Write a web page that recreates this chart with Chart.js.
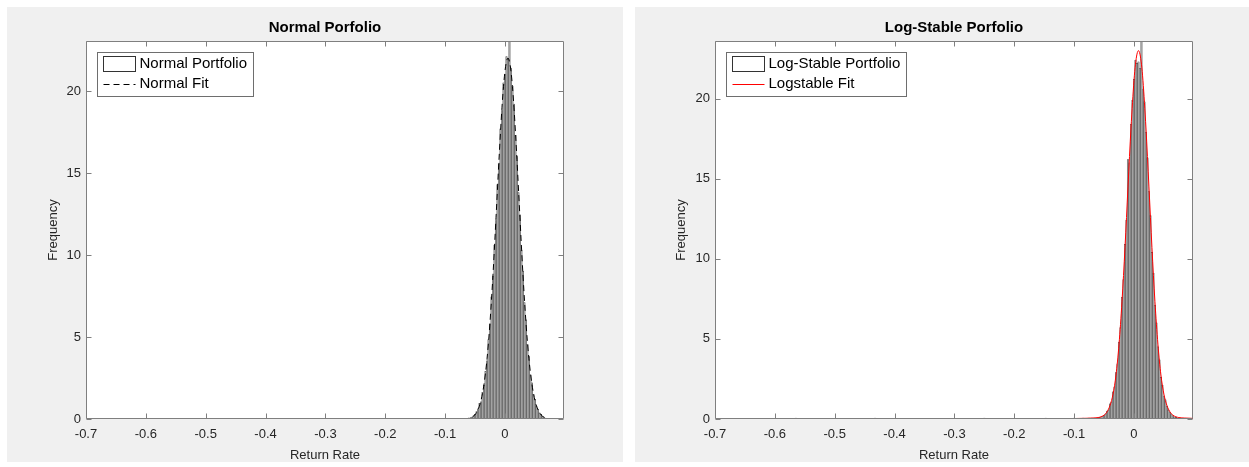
<!DOCTYPE html>
<html>
<head>
<meta charset="utf-8">
<title>Portfolio return histograms</title>
<script src="https://cdn.jsdelivr.net/npm/chart.js@4.4.1/dist/chart.umd.min.js"></script>
<style>
  html, body { margin: 0; padding: 0; background: #fff; }
  body { width: 1249px; height: 467px; position: relative; overflow: hidden; }
  .panel { position: absolute; top: 7px; height: 455px; background: #f0f0f0; }
  #leftPanel { left: 7px; width: 616px; }
  #rightPanel { left: 635px; width: 614px; }
  canvas { display: block; }
</style>
</head>
<body>
<div class="panel" id="leftPanel"><canvas id="normalChart" width="616" height="455"></canvas></div>
<div class="panel" id="rightPanel"><canvas id="stableChart" width="614" height="455"></canvas></div>
<script>
// axis ticks shared by both panels
const xTickValues = [-0.7, -0.6, -0.5, -0.4, -0.3, -0.2, -0.1, 0];
const yTickValues = [0, 5, 10, 15, 20];

// normal portfolio: histogram bin centres and densities
const normalBins = [
  -0.06, -0.0575, -0.055, -0.0525, -0.05, -0.0475, -0.045, -0.0425, -0.04, -0.0375,
  -0.035, -0.0325, -0.03, -0.0275, -0.025, -0.0225, -0.02, -0.0175, -0.015, -0.0125,
  -0.01, -0.0075, -0.005, -0.0025, 0, 0.0025, 0.005, 0.0075, 0.01, 0.0125,
  0.015, 0.0175, 0.02, 0.0225, 0.025, 0.0275, 0.03, 0.0325, 0.035, 0.0375,
  0.04, 0.0425, 0.045, 0.0475, 0.05, 0.0525, 0.055, 0.0575, 0.06, 0.0625,
  0.065, 0.0675, 0.07
];
const normalFreq = [
  0.03, 0.08, 0.12, 0.20, 0.28, 0.45, 0.62, 0.95, 1.05, 1.62,
  2.05, 2.90, 3.55, 4.85, 5.80, 7.45, 8.70, 10.60, 12.10, 14.30,
  15.60, 17.70, 18.80, 20.50, 21.00, 22.10, 22.00, 23.80, 21.40, 20.30,
  19.20, 17.30, 16.00, 13.80, 12.45, 10.30, 9.00, 7.10, 6.05, 4.55,
  3.80, 2.70, 2.20, 1.50, 1.20, 0.75, 0.60, 0.38, 0.28, 0.15,
  0.12, 0.06, 0.04
];
// normal fit curve
const normalFitX = [
  -0.07, -0.065, -0.06, -0.055, -0.05, -0.045, -0.04, -0.035, -0.03, -0.025,
  -0.02, -0.015, -0.01, -0.005, -0.0025, 0, 0.0025, 0.005, 0.0075, 0.01,
  0.0125, 0.015, 0.02, 0.025, 0.03, 0.035, 0.04, 0.045, 0.05, 0.055,
  0.06, 0.065, 0.07, 0.075, 0.08
];
const normalFitY = [
  0.006, 0.017, 0.046, 0.114, 0.265, 0.57, 1.14, 2.13, 3.67, 5.91,
  8.83, 12.27, 15.83, 19.01, 20.26, 21.21, 21.80, 22.0, 21.80, 21.21,
  20.26, 19.01, 15.83, 12.27, 8.83, 5.91, 3.67, 2.13, 1.14, 0.57,
  0.265, 0.114, 0.046, 0.017, 0.006
];

// log-stable portfolio: histogram bin centres and densities
const stableBins = [
  -0.565, -0.4325, -0.25, -0.1475, -0.1, -0.085, -0.075, -0.07,
  -0.065, -0.0625, -0.06, -0.0575, -0.055, -0.0525, -0.05, -0.0475, -0.045, -0.0425,
  -0.04, -0.0375, -0.035, -0.0325, -0.03, -0.0275, -0.025, -0.0225, -0.02, -0.0175,
  -0.015, -0.0125, -0.01, -0.0075, -0.005, -0.0025, 0, 0.0025, 0.005, 0.0075,
  0.01, 0.0125, 0.015, 0.0175, 0.02, 0.0225, 0.025, 0.0275, 0.03, 0.0325,
  0.035, 0.0375, 0.04, 0.0425, 0.045, 0.0475, 0.05, 0.0525, 0.055, 0.0575,
  0.06, 0.0625, 0.065, 0.0675, 0.07, 0.0725, 0.075, 0.0775
];
const stableFreq = [
  0.06, 0.06, 0.06, 0.06, 0.06, 0.06, 0.06, 0.06,
  0.06, 0.04, 0.05, 0.10, 0.08, 0.18, 0.22, 0.30, 0.50, 0.55,
  0.95, 1.05, 1.70, 2.00, 2.90, 3.45, 4.80, 5.70, 7.60, 8.70,
  10.90, 12.40, 16.20, 16.00, 18.40, 19.90, 21.20, 22.40, 22.20, 22.30,
  21.90, 24.50, 20.60, 19.80, 17.90, 16.30, 14.20, 12.70, 10.40, 9.10,
  7.10, 6.00, 4.50, 3.70, 2.60, 2.10, 1.40, 1.20, 0.80, 0.55,
  0.40, 0.28, 0.20, 0.12, 0.10, 0.05, 0.06, 0.03
];
// log-stable fit curve
const stableFitX = [
  -0.565, -0.45, -0.35, -0.25, -0.15, -0.1, -0.08, -0.07,
  -0.06, -0.055, -0.05, -0.045, -0.04, -0.035, -0.03, -0.025, -0.02, -0.015, -0.01, -0.005,
  0, 0.0025, 0.005, 0.0075, 0.01, 0.0125, 0.015,
  0.02, 0.025, 0.03, 0.035, 0.04, 0.045, 0.05, 0.055, 0.06, 0.065, 0.07, 0.075,
  0.085, 0.0986
];
const stableFitY = [
  0.002, 0.003, 0.004, 0.006, 0.015, 0.03, 0.045, 0.06,
  0.09, 0.14, 0.24, 0.45, 0.85, 1.55, 2.75, 4.67, 7.34, 10.71, 14.49, 18.17,
  21.13, 22.15, 22.78, 23.0, 22.78, 22.15, 21.13,
  18.17, 14.49, 10.71, 7.34, 4.67, 2.75, 1.55, 0.85, 0.45, 0.24, 0.14, 0.09,
  0.06, 0.04
];

const FONT = '"Liberation Sans", Arial, Helvetica, sans-serif';
const AXIS_COLOR = '#7f7f7f';
const TEXT_COLOR = '#262626';
Chart.defaults.font.family = FONT;

// white plot box, inward ticks on all four sides, bold title and boxed legend
const matlabAxes = {
  id: 'matlabAxes',
  beforeDraw(chart) {
    const { ctx, chartArea: a } = chart;
    ctx.save();
    ctx.fillStyle = '#ffffff';
    ctx.fillRect(a.left, a.top, a.right - a.left, a.bottom - a.top);
    ctx.restore();
  },
  afterDraw(chart, args, opts) {
    const { ctx, chartArea: a, scales } = chart;
    const L = Math.round(a.left) + 0.5, R = Math.round(a.right) - 0.5;
    const T = Math.round(a.top) + 0.5, B = Math.round(a.bottom) - 0.5;
    const tick = 5;
    ctx.save();
    ctx.strokeStyle = AXIS_COLOR;
    ctx.lineWidth = 1;
    ctx.beginPath();
    ctx.rect(L, T, R - L, B - T);
    scales.x.ticks.forEach(t => {
      const px = Math.round(scales.x.getPixelForValue(t.value)) + 0.5;
      ctx.moveTo(px, B); ctx.lineTo(px, B - tick);
      ctx.moveTo(px, T); ctx.lineTo(px, T + tick);
    });
    scales.y.ticks.forEach(t => {
      const py = Math.round(scales.y.getPixelForValue(t.value)) + 0.5;
      ctx.moveTo(L, py); ctx.lineTo(L + tick, py);
      ctx.moveTo(R, py); ctx.lineTo(R - tick, py);
    });
    ctx.stroke();

    // title
    ctx.fillStyle = '#000';
    ctx.font = 'bold 15px ' + FONT;
    ctx.textAlign = 'center';
    ctx.textBaseline = 'middle';
    ctx.fillText(opts.title, (a.left + a.right) / 2, a.top - 13);

    // legend
    const sets = chart.data.datasets;
    ctx.font = '15px ' + FONT;
    const textW = Math.max(...sets.map(d => ctx.measureText(d.label).width));
    const bx = Math.round(a.left) + 11.5, by = Math.round(a.top) + 11.5;
    const bw = Math.round(textW + 48), bh = 44;
    ctx.fillStyle = '#fff';
    ctx.fillRect(bx, by, bw, bh);
    ctx.strokeStyle = '#6e6e6e';
    ctx.strokeRect(bx, by, bw, bh);

    const rows = [by + 11.5, by + 31];
    // histogram patch
    ctx.strokeStyle = '#333';
    ctx.strokeRect(bx + 6, by + 4, 32, 15);
    // fit line sample
    const fit = sets[1];
    ctx.beginPath();
    ctx.strokeStyle = fit.borderColor;
    ctx.lineWidth = fit.borderWidth;
    ctx.setLineDash(fit.borderDash || []);
    ctx.moveTo(bx + 6, Math.round(rows[1]) + 0.5);
    ctx.lineTo(bx + 38, Math.round(rows[1]) + 0.5);
    ctx.stroke();
    ctx.setLineDash([]);

    ctx.fillStyle = '#000';
    ctx.textAlign = 'left';
    sets.forEach((d, i) => ctx.fillText(d.label, bx + 42, rows[i]));
    ctx.restore();
  }
};

function tickLabel(v) {
  return (Math.round(v * 10) / 10).toString();
}

function makeChart(canvasId, opts) {
  return new Chart(document.getElementById(canvasId), {
    type: 'bar',
    data: {
      datasets: [
        {
          type: 'bar',
          label: opts.histLabel,
          data: opts.bins.map((x, i) => ({ x: x, y: opts.freq[i] })),
          backgroundColor: '#a3a3a3',
          borderColor: '#333333',
          borderWidth: 0.35,
          barPercentage: 1,
          categoryPercentage: 1,
          order: 2
        },
        {
          type: 'line',
          label: opts.fitLabel,
          data: opts.fitX.map((x, i) => ({ x: x, y: opts.fitY[i] })),
          borderColor: opts.fitColor,
          borderDash: opts.fitDash,
          borderWidth: 1,
          pointRadius: 0,
          fill: false,
          cubicInterpolationMode: 'monotone',
          order: 1
        }
      ]
    },
    options: {
      responsive: false,
      animation: false,
      events: [],
      layout: { padding: { top: 34, right: opts.padRight, left: 0, bottom: 0 } },
      plugins: {
        legend: { display: false },
        tooltip: { enabled: false },
        matlabAxes: { title: opts.title }
      },
      scales: {
        x: {
          type: 'linear',
          offset: false,
          min: -0.7,
          max: 0.0986,
          grid: { display: false, drawTicks: false, offset: false },
          border: { display: false },
          afterBuildTicks: s => { s.ticks = xTickValues.map(v => ({ value: v })); },
          afterFit: s => { s.height = 43; },
          ticks: {
            padding: 8,
            color: TEXT_COLOR,
            font: { size: 13 },
            maxRotation: 0,
            autoSkip: false,
            callback: tickLabel
          },
          title: {
            display: true,
            text: 'Return Rate',
            color: TEXT_COLOR,
            font: { size: 13 },
            padding: { top: 0, bottom: -1 }
          }
        },
        y: {
          min: 0,
          max: opts.yMax,
          grid: { display: false, drawTicks: false },
          border: { display: false },
          afterBuildTicks: s => { s.ticks = yTickValues.map(v => ({ value: v })); },
          afterFit: s => { s.width = opts.yWidth; },
          ticks: {
            padding: 5,
            color: TEXT_COLOR,
            font: { size: 13 },
            callback: v => String(Math.round(v))
          },
          title: {
            display: true,
            text: 'Frequency',
            color: TEXT_COLOR,
            font: { size: 13 },
            padding: { top: 39, bottom: 0 }
          }
        }
      }
    },
    plugins: [matlabAxes]
  });
}

makeChart('normalChart', {
  title: 'Normal Porfolio',
  histLabel: 'Normal Portfolio',
  fitLabel: 'Normal Fit',
  bins: normalBins,
  freq: normalFreq,
  fitX: normalFitX,
  fitY: normalFitY,
  fitColor: '#000000',
  fitDash: [6, 4],
  yMax: 23.05,
  yWidth: 79,
  padRight: 59
});

makeChart('stableChart', {
  title: 'Log-Stable Porfolio',
  histLabel: 'Log-Stable Portfolio',
  fitLabel: 'Logstable Fit',
  bins: stableBins,
  freq: stableFreq,
  fitX: stableFitX,
  fitY: stableFitY,
  fitColor: '#ff0000',
  fitDash: [],
  yMax: 23.6,
  yWidth: 80,
  padRight: 56
});
</script>
</body>
</html>
